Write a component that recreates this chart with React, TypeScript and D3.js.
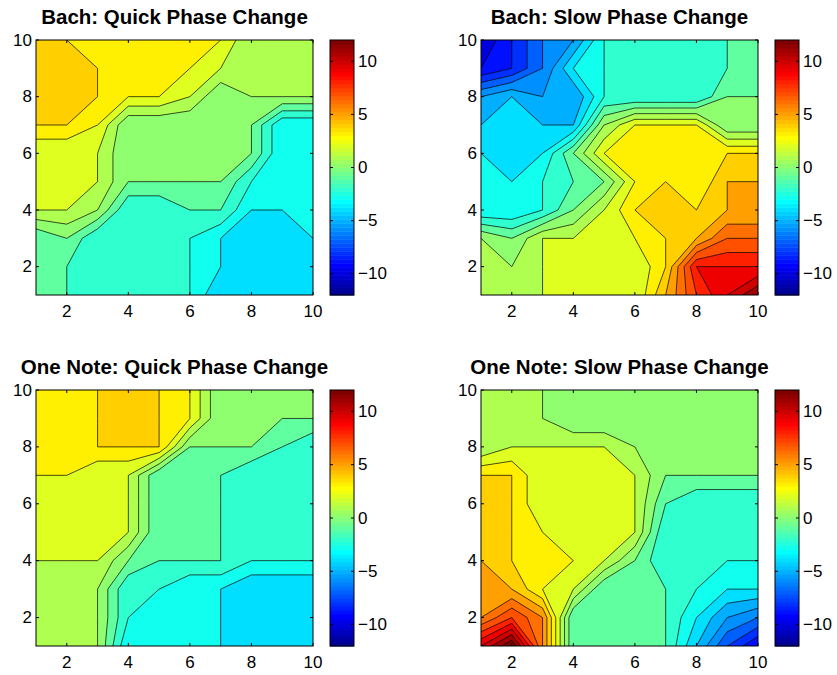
import React from 'react';
import * as d3 from 'd3';

// grid rows run from y = 10 (top) down to y = 1, columns x = 1..10
const bachQuick = [
  [4, 4, 3, 3, 3, 3, 3, 1, 1, 1],
  [4, 4, 4, 3, 3, 3, 2, 1, 1, 1],
  [4, 4, 4, 3, 3, 2, 0, 1, 1, 1],
  [4, 4, 3, 0, 0, 0, 0, 0, -3, -3],
  [2, 2, 2, 0, 0, 0, 0, 0, -3, -3],
  [2, 2, 2, 0, 0, 0, 0, -2, -3, -3],
  [2, 2, 1, -2, -2, -1, -1, -3, -3, -3],
  [-1, 0, -2, -2, -2, -2, -3, -4, -4, -3],
  [-1, -1, -2, -2, -2, -2, -3, -4, -4, -4],
  [-1, -1, -2, -2, -2, -2, -4, -4, -4, -4],
];

const bachSlow = [
  [-10, -8, -6, -5, -2, -2, -2, -2, -1, -1],
  [-9, -8, -6, -3, -2, -2, -2, -2, -1, -1],
  [-5, -4, -5, -5, -2, -2, -2, -2, 0, 0],
  [-4, -4, -4, -4, 1, 3, 3, 3, 0, 0],
  [-3, -4, -3, 0, 3, 3, 3, 3, 4, 4],
  [-3, -3, -2, -1, 0, 3, 4, 3, 5, 5],
  [-3, -3, -2, 0, 2, 4, 4, 4, 5, 5],
  [1, 0, 2, 2, 2, 3, 4, 5, 7, 7],
  [1, 1, 2, 2, 2, 2, 4, 9, 9, 9],
  [1, 1, 2, 2, 2, 2, 5, 8, 10, 12],
];

const oneQuick = [
  [3, 3, 4, 4, 4, 3, 0, 0, 0, 0],
  [3, 3, 4, 4, 4, 3, 0, 0, 0, 0],
  [3, 3, 4, 4, 4, 0, 0, 0, -1, -2],
  [3, 3, 2, 2, -1, -1, -1, -2, -2, -2],
  [2, 2, 2, 2, -1, -1, -1, -2, -2, -2],
  [2, 2, 2, 2, -1, -1, -1, -2, -2, -2],
  [2, 2, 2, 0, -1, -1, -1, -2, -2, -2],
  [1, 1, 1, -2, -2, -3, -3, -4, -4, -4],
  [1, 1, 1, -2, -3, -3, -3, -4, -4, -4],
  [1, 1, 1, -3, -3, -3, -3, -4, -4, -4],
];

const oneSlow = [
  [1, 1, 1, 0, 0, 0, 0, 0, 0, 0],
  [1, 1, 1, 0, 0, 0, 0, 0, 0, 0],
  [1, 2, 2, 2, 2, 1, 0, 0, 0, 0],
  [4, 4, 2, 2, 2, 2, 0, 0, 0, 0],
  [4, 4, 2, 2, 2, 2, -1, -2, -2, -2],
  [4, 4, 3, 2, 2, 2, -2, -2, -2, -2],
  [5, 4, 3, 3, 2, 0, -2, -2, -2, -2],
  [5, 5, 3, 2, -1, -1, -1, -2, -3, -3],
  [6, 8, 6, -1, -1, -1, -1, -3, -5, -6],
  [10, 13, 6, -1, -1, -1, -1, -4, -7, -9],
];

const titles = [
  'Bach: Quick Phase Change',
  'Bach: Slow Phase Change',
  'One Note: Quick Phase Change',
  'One Note: Slow Phase Change',
];

const levels = d3.range(-12, 14);
const axisTicks = [2, 4, 6, 8, 10];
const barTicks = [-10, -5, 0, 5, 10];
const cmin = -12;
const cmax = 12;

// MATLAB jet(64)
const u = d3.range(16).map(i => (i + 1) / 16)
  .concat(d3.range(15).map(() => 1))
  .concat(d3.range(16).map(i => (16 - i) / 16));
const pick = (i: number) => (i >= 0 && i < u.length ? u[i] : 0);
const jetRow = (k: number) => {
  const c = [pick(k - 25), pick(k - 9), pick(k + 7)].map(x => Math.round(x * 255));
  return `rgb(${c[0]},${c[1]},${c[2]})`;
};
const jetColor = (v: number) => {
  let k = Math.floor(((v - cmin) / (cmax - cmin)) * 64) + 1;
  k = Math.max(1, Math.min(64, k));
  return jetRow(k);
};

const font = "'Liberation Sans', Arial, Helvetica, sans-serif";

function Panel({ id, title, grid, left, top, width, height }) {
  const x = d3.scaleLinear().domain([1, 10]).range([left, left + width]);
  const y = d3.scaleLinear().domain([1, 10]).range([top + height, top]);
  const contours = d3.contours().size([10, 10]).thresholds(levels)(grid.flat());
  const path = d3.geoPath(
    d3.geoTransform({
      point(px, py) {
        this.stream.point(x(px + 0.5), y(10.5 - py));
      },
    })
  );
  const cbLeft = left + 294;
  const cbW = 24;
  const cb = d3.scaleLinear().domain([cmin, cmax]).range([top + height, top]);
  const rows = d3.range(1, 65);
  const rowH = height / 64;
  const tk = 3;

  return (
    <g>
      <defs>
        <clipPath id={`clip-${id}`}>
          <rect x={left} y={top} width={width} height={height} />
        </clipPath>
      </defs>
      <g clipPath={`url(#clip-${id})`}>
        {contours.map((c, i) => (
          <path
            key={i}
            d={path(c) || ''}
            fill={jetColor(c.value)}
            stroke="#000"
            strokeWidth={0.7}
          />
        ))}
      </g>
      <rect x={left} y={top} width={width} height={height} fill="none" stroke="#000" strokeWidth={1} />
      {axisTicks.map(t => (
        <g key={`t${t}`}>
          <line x1={x(t)} x2={x(t)} y1={top + height} y2={top + height - tk} stroke="#000" />
          <line x1={x(t)} x2={x(t)} y1={top} y2={top + tk} stroke="#000" />
          <line x1={left} x2={left + tk} y1={y(t)} y2={y(t)} stroke="#000" />
          <line x1={left + width} x2={left + width - tk} y1={y(t)} y2={y(t)} stroke="#000" />
          <text x={x(t)} y={top + height + 16} textAnchor="middle" dominantBaseline="central" fontSize={17}>
            {t}
          </text>
          <text x={left - 4} y={y(t)} textAnchor="end" dominantBaseline="central" fontSize={17}>
            {t}
          </text>
        </g>
      ))}
      <text x={left + width / 2} y={top - 16} textAnchor="middle" fontSize={20.5} fontWeight="bold">
        {title}
      </text>
      {rows.map(k => (
        <rect
          key={k}
          x={cbLeft}
          y={top + height - k * rowH}
          width={cbW}
          height={rowH + 0.5}
          fill={jetRow(k)}
        />
      ))}
      <rect x={cbLeft} y={top} width={cbW} height={height} fill="none" stroke="#000" strokeWidth={1} />
      {barTicks.map(t => (
        <g key={`c${t}`}>
          <line x1={cbLeft} x2={cbLeft + tk} y1={cb(t)} y2={cb(t)} stroke="#000" />
          <line x1={cbLeft + cbW} x2={cbLeft + cbW - tk} y1={cb(t)} y2={cb(t)} stroke="#000" />
          <text x={cbLeft + cbW + 4} y={cb(t)} dominantBaseline="central" fontSize={17}>
            {t < 0 ? `\u2212${-t}` : t}
          </text>
        </g>
      ))}
    </g>
  );
}

export default function App() {
  const grids = [bachQuick, bachSlow, oneQuick, oneSlow];
  const lefts = [36, 481, 36, 481];
  const tops = [40, 40, 390, 390];
  return (
    <svg
      width={837}
      height={675}
      style={{ position: 'absolute', left: 0, top: 0, background: '#fff' }}
      fontFamily={font}
    >
      {grids.map((g, i) => (
        <Panel
          key={i}
          id={i}
          title={titles[i]}
          grid={g}
          left={lefts[i]}
          top={tops[i]}
          width={277}
          height={i < 2 ? 255 : 256}
        />
      ))}
    </svg>
  );
}
